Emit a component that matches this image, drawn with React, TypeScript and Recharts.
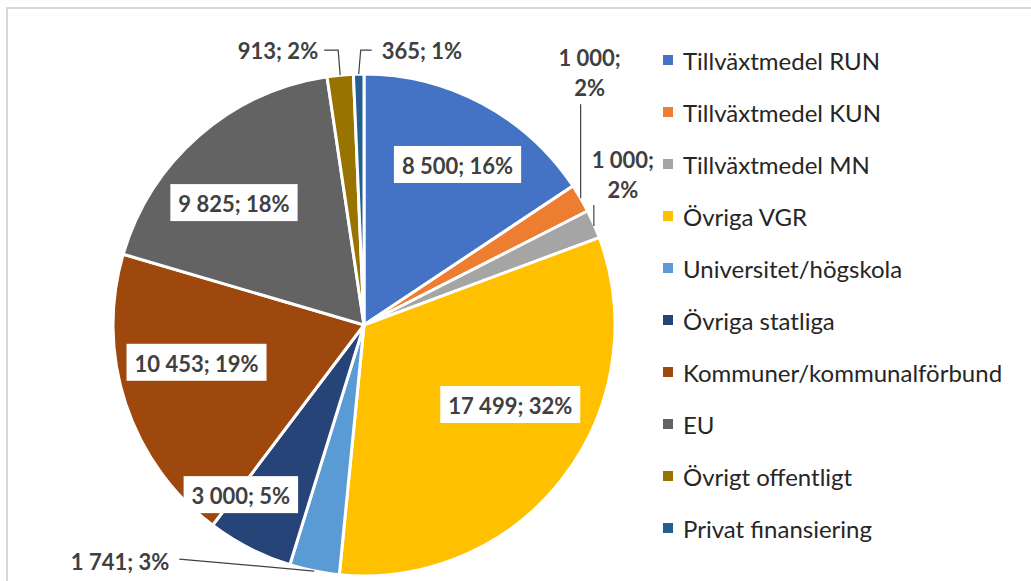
import { PieChart, Pie, Cell, Legend } from 'recharts';

const categories = [
  'Tillväxtmedel RUN',
  'Tillväxtmedel KUN',
  'Tillväxtmedel MN',
  'Övriga VGR',
  'Universitet/högskola',
  'Övriga statliga',
  'Kommuner/kommunalförbund',
  'EU',
  'Övrigt offentligt',
  'Privat finansiering',
];
const amounts = [8500, 1000, 1000, 17499, 1741, 3000, 10453, 9825, 913, 365];
// percentages as printed on the labels
const percentLabels = [16, 2, 2, 32, 3, 5, 19, 18, 2, 1];
const colors = [
  '#4472C4', '#ED7D31', '#A5A5A5', '#FFC000', '#5B9BD5',
  '#264478', '#9E480E', '#636363', '#997300', '#255E91',
];

const data = categories.map((name, i) => ({ name, value: amounts[i], pct: percentLabels[i] }));

const LABEL_FONT = 'bold 22px Lato';
const LABEL_COLOR = '#404040';

// label placement per slice: inside box or outside with leader line
type Placement =
  | { type: 'box'; r: number; dx: number; dy: number }
  | { type: 'out'; leader: [number, number][]; text: [number, number]; anchor: 'start' | 'middle' | 'end'; split?: boolean };

const placements: Placement[] = [
  { type: 'box', r: 0.73, dx: 7, dy: 1 },
  { type: 'out', leader: [[0, 0], [0, -94]], text: [9, -141], anchor: 'middle', split: true },
  { type: 'out', leader: [[0, 2], [0, -19]], text: [29, -65], anchor: 'middle', split: true },
  { type: 'box', r: 0.61, dx: 25, dy: -14 },
  { type: 'out', leader: [[0, 0], [-135, -12]], text: [-145, -10], anchor: 'end' },
  { type: 'box', r: 0.84, dx: -27, dy: -18 },
  { type: 'box', r: 0.69, dx: -3, dy: -17 },
  { type: 'box', r: 0.71, dx: -13, dy: 12 },
  { type: 'out', leader: [[0, 0], [-2, -25], [-16, -25]], text: [-22, -25], anchor: 'end' },
  { type: 'out', leader: [[0, 0], [2, -24], [13, -24]], text: [23, -24], anchor: 'start' },
];

let ctx: CanvasRenderingContext2D | null = null;
function measure(text: string) {
  if (!ctx) ctx = document.createElement('canvas').getContext('2d');
  if (!ctx) return text.length * 11;
  ctx.font = LABEL_FONT;
  return ctx.measureText(text).width;
}

const fmt = (v: number) => String(v).replace(/\B(?=(\d{3})+(?!\d))/g, ' ');

const RAD = Math.PI / 180;

function renderLabel(props: any) {
  const { cx, cy, midAngle, outerRadius, index, value } = props;
  const p = placements[index];
  const pct = `${percentLabels[index]}%`;
  const textStyle = { fontFamily: 'Lato', fontWeight: 700, fontSize: 22, fill: LABEL_COLOR };
  if (p.type === 'box') {
    const r = outerRadius * p.r;
    const x = cx + r * Math.cos(-midAngle * RAD) + p.dx;
    const y = cy + r * Math.sin(-midAngle * RAD) + p.dy;
    const text = `${fmt(value)}; ${pct}`;
    const w = measure(text) + 16;
    const h = 37;
    return (
      <g key={`l-${index}`}>
        <rect x={x - w / 2} y={y - h / 2} width={w} height={h} fill="#fff" />
        <text x={x} y={y + 1} textAnchor="middle" dominantBaseline="central" style={textStyle}>
          {text}
        </text>
      </g>
    );
  }
  const ex = cx + outerRadius * Math.cos(-midAngle * RAD);
  const ey = cy + outerRadius * Math.sin(-midAngle * RAD);
  const path = p.leader.map(([dx, dy], i) => `${i ? 'L' : 'M'}${ex + dx},${ey + dy}`).join(' ');
  const tx = ex + p.text[0];
  const ty = ey + p.text[1];
  return (
    <g key={`l-${index}`}>
      <path d={path} stroke="#404040" strokeWidth={1.2} fill="none" />
      {p.split ? (
        <>
          <text x={tx} y={ty} textAnchor={p.anchor} dominantBaseline="central" style={textStyle}>
            {`${fmt(value)};`}
          </text>
          <text x={tx} y={ty + 30} textAnchor={p.anchor} dominantBaseline="central" style={textStyle}>
            {pct}
          </text>
        </>
      ) : (
        <text x={tx} y={ty} textAnchor={p.anchor} dominantBaseline="central" style={textStyle}>
          {`${fmt(value)}; ${pct}`}
        </text>
      )}
    </g>
  );
}

function LegendList() {
  return (
    <div>
      {categories.map((name, i) => (
        <div key={name} style={{ display: 'flex', alignItems: 'center', height: 52 }}>
          <span style={{ width: 10, height: 10, background: colors[i], marginRight: 10 }} />
          <span style={{ fontFamily: 'Lato', fontSize: 24, color: '#262626' }}>{name}</span>
        </div>
      ))}
    </div>
  );
}

export default function App() {
  return (
    <div style={{ position: 'fixed', left: 0, top: 0, width: 1031, height: 581, overflow: 'hidden', background: '#fff' }}>
      <div
        style={{
          position: 'absolute',
          left: 6,
          top: 7,
          width: 1100,
          height: 650,
          border: '2px solid #d9d9d9',
          boxSizing: 'border-box',
        }}
      />
      <div style={{ position: 'absolute', left: 0, top: 0 }}>
        <PieChart width={1031} height={581}>
          <Pie
            data={data}
            dataKey="value"
            nameKey="name"
            cx={359}
            cy={320}
            outerRadius={251}
            startAngle={90}
            endAngle={-270}
            stroke="#fff"
            strokeWidth={3}
            label={renderLabel}
            labelLine={false}
            isAnimationActive={false}
          >
            {data.map((d, i) => (
              <Cell key={d.name} fill={colors[i]} />
            ))}
          </Pie>
          <Legend
            layout="vertical"
            align="right"
            verticalAlign="top"
            content={() => <LegendList />}
            wrapperStyle={{ left: 663, top: 34, width: 360, right: 'auto' }}
          />
        </PieChart>
      </div>
    </div>
  );
}
